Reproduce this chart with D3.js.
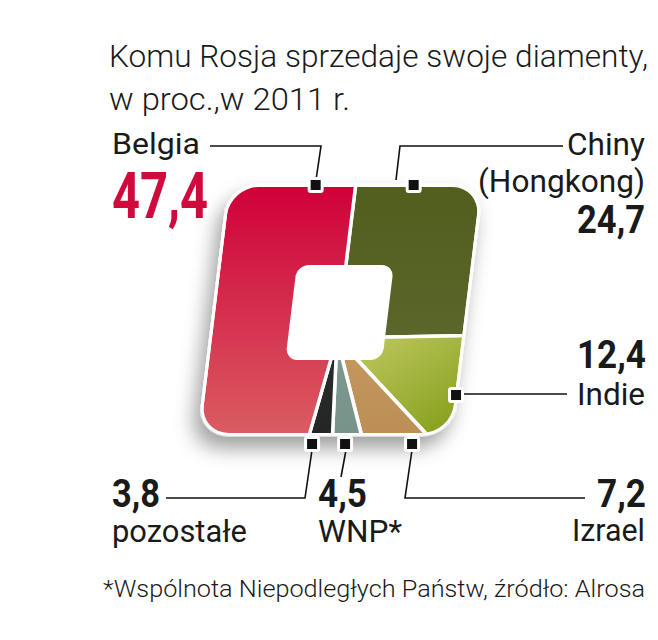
<!DOCTYPE html>
<html><head><meta charset="utf-8">
<script src="https://cdn.jsdelivr.net/npm/d3@7"></script>
<style>html,body{margin:0;padding:0;background:#fff;} svg{display:block}</style>
</head><body>
<svg id="c" width="658" height="640"></svg>
<script>
// ---- data ----
const categories = ["Chiny (Hongkong)", "Indie", "Izrael", "WNP*", "pozostałe", "Belgia"];
const values = [24.7, 12.4, 7.2, 4.5, 3.8, 47.4];
const sliceColors = [["#525e1d", "#606c33"], ["#bcc55c", "#859f1b"], ["#cca668", "#bd8f57"], ["#8ba797", "#77938a"], ["#363838", "#242626"], ["#cf0039", "#da5c61"]];
const titleLines = ["Komu Rosja sprzedaje swoje diamenty,", "w proc.,w 2011 r."];
const footnote = "*Wspólnota Niepodległych Państw, źródło: Alrosa";

// ---- layout ----
const svg = d3.select("#c");
const cx = 337, cy = 338, k = -0.122;
const outer = {x0: -125, x1: 125, y0: -151, y1: 95, r: 28};
const hole = {x0: -49, x1: 48, y0: -73, y1: 22, r: 12};
const fmt = d3.formatLocale({decimal: ",", thousands: " ", grouping: [3], currency: ["", ""]}).format(".1f");
const FONT = "Roboto, 'Open Sans', sans-serif";

function rrect(b, pad = 0) {
  const x0 = b.x0 - pad, x1 = b.x1 + pad, y0 = b.y0 - pad, y1 = b.y1 + pad, r = b.r + pad;
  const p = d3.path();
  p.moveTo(x0 + r, y0); p.lineTo(x1 - r, y0); p.arcTo(x1, y0, x1, y0 + r, r);
  p.lineTo(x1, y1 - r); p.arcTo(x1, y1, x1 - r, y1, r);
  p.lineTo(x0 + r, y1); p.arcTo(x0, y1, x0, y1 - r, r);
  p.lineTo(x0, y0 + r); p.arcTo(x0, y0, x0 + r, y0, r); p.closePath();
  return p.toString();
}

const defs = svg.append("defs");
const f = defs.append("filter").attr("id", "sh").attr("x", "-30%").attr("y", "-30%").attr("width", "160%").attr("height", "160%");
f.append("feDropShadow").attr("dx", -5).attr("dy", 12).attr("stdDeviation", 10).attr("flood-color", "#000").attr("flood-opacity", 0.38);
defs.append("clipPath").attr("id", "ring").append("path")
  .attr("d", rrect(outer) + rrect(hole)).attr("clip-rule", "evenodd");
sliceColors.forEach((c, i) => {
  const g = defs.append("linearGradient").attr("id", "g" + i).attr("gradientUnits", "userSpaceOnUse");
  if (i === 1) g.attr("x1", 50).attr("y1", -10).attr("x2", 125).attr("y2", 95);
  else g.attr("x1", 0).attr("y1", outer.y0).attr("x2", 0).attr("y2", outer.y1);
  g.append("stop").attr("offset", "0%").attr("stop-color", c[0]);
  g.append("stop").attr("offset", "100%").attr("stop-color", c[1]);
});

const chart = svg.append("g")
  .attr("transform", `translate(${cx},${cy}) skewX(${Math.atan(k) * 180 / Math.PI})`);
chart.append("path").attr("d", rrect(outer, 3)).attr("fill", "#fff").attr("filter", "url(#sh)");

const pie = d3.pie().sort(null).startAngle(0).endAngle(2 * Math.PI);
const arc = d3.arc().innerRadius(0).outerRadius(420);
chart.append("g").attr("clip-path", "url(#ring)")
  .selectAll("path").data(pie(values)).join("path")
  .attr("d", arc)
  .attr("fill", (d, i) => `url(#g${i})`)
  .attr("stroke", "#fff").attr("stroke-width", 3.5).attr("stroke-linejoin", "round");

// ---- annotations ----
const toScreen = (ux, uy) => [cx + ux + k * uy, cy + uy];
// marker positions in unskewed chart coordinates
const markers = [
  {u: [58, -153], leader: [[396, 180], [400, 146], [563, 146]]},
  {u: [126, 57], leader: [[460, 394], [567, 394]]},
  {u: [88, 106], leader: [[412, 450], [405, 498], [585, 498]]},
  {u: [21, 106], leader: [[346, 450], [341, 477]]},
  {u: [-12, 106], leader: [[312, 450], [305, 498], [166, 498]]},
  {u: [-40, -153], leader: [[316, 180], [321, 146], [210, 146]]}
];
const line = d3.line();
const ann = svg.append("g");
ann.selectAll("path").data(markers).join("path")
  .attr("d", d => line(d.leader)).attr("fill", "none").attr("stroke", "#111").attr("stroke-width", 1.6);
ann.selectAll("rect").data(markers).join("rect")
  .attr("x", d => toScreen(...d.u)[0] - 6.5).attr("y", d => toScreen(...d.u)[1] - 6.5)
  .attr("width", 13).attr("height", 13).attr("rx", 1.5)
  .attr("fill", "#111").attr("stroke", "#fff").attr("stroke-width", 3);

function txt(s, x, y, opt) {
  const t = svg.append("text").attr("x", x).attr("y", y).text(s)
    .attr("font-family", FONT).attr("font-size", opt.size).attr("font-weight", opt.weight || 400)
    .attr("fill", opt.fill || "#1a1a1a").attr("text-anchor", opt.anchor || "start");
  if (opt.w) t.attr("textLength", opt.w).attr("lengthAdjust", "spacingAndGlyphs");
  return t;
}

// title
txt(titleLines[0], 109, 67, {size: 31, weight: 300, w: 539});
txt(titleLines[1], 109, 110, {size: 31, weight: 300, w: 241});

const nameSz = 31, valSz = 39;
// Chiny
txt("Chiny", 645, 155, {size: nameSz, anchor: "end", w: 78});
txt("(Hongkong)", 645, 192, {size: nameSz, anchor: "end", w: 167});
txt(fmt(values[0]), 645, 233, {size: valSz, weight: 700, anchor: "end", w: 68});
// Indie
txt(fmt(values[1]), 646, 368, {size: valSz, weight: 700, anchor: "end", w: 69});
txt(categories[1], 645, 405, {size: nameSz, anchor: "end", w: 68});
// Izrael
txt(fmt(values[2]), 646, 507, {size: valSz, weight: 700, anchor: "end", w: 49});
txt(categories[2], 645, 541, {size: nameSz, anchor: "end", w: 73});
// WNP
txt(fmt(values[3]), 318, 507, {size: valSz, weight: 700, w: 49});
txt(categories[3], 318, 542, {size: nameSz, w: 84});
// pozostałe
txt(fmt(values[4]), 112, 507, {size: valSz, weight: 700, w: 48});
txt(categories[4], 112, 542, {size: nameSz, w: 135});
// Belgia
txt(categories[5], 112, 154, {size: 30, w: 88});
txt(fmt(values[5]), 112, 218, {size: 65, weight: 700, fill: "#cf0a3c", w: 96});

// footnote
txt(footnote, 103, 597, {size: 24, weight: 300, w: 542});
</script>
</body></html>
